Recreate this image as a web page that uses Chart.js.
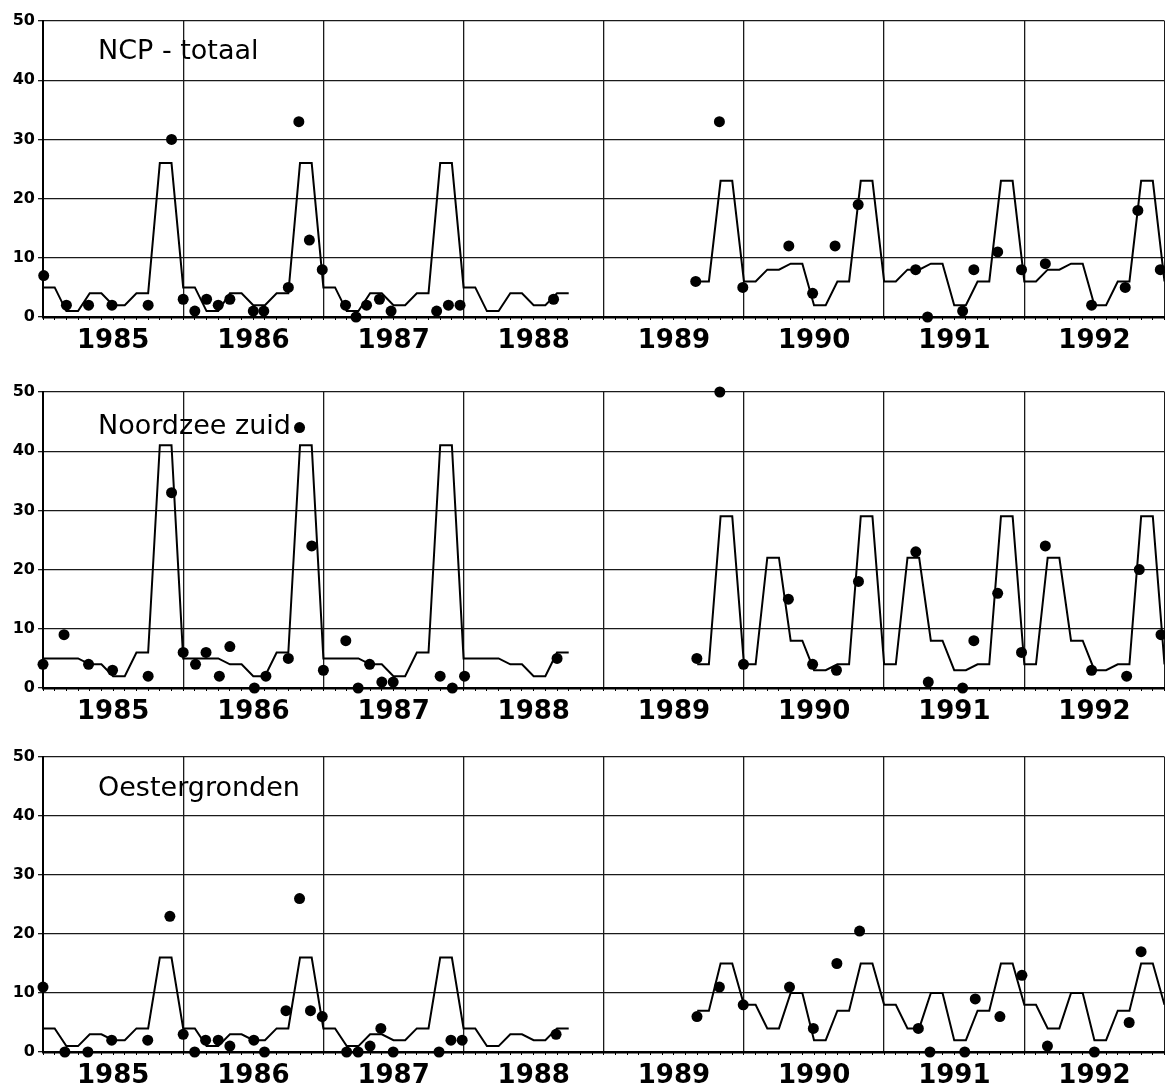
<!DOCTYPE html>
<html>
<head>
<meta charset="utf-8">
<title>NCP - totaal / Noordzee zuid / Oestergronden</title>
<script src="https://cdn.jsdelivr.net/npm/chart.js@4.4.1/dist/chart.umd.min.js"></script>
<style>
  html, body { margin: 0; padding: 0; background: #fff; overflow: hidden; }
  #wrap { position: relative; width: 1165px; height: 1092px; overflow: hidden; }
  canvas { position: absolute; left: 0; }
</style>
</head>
<body>
<div id="wrap">
  <canvas id="ncp" style="top:0px" width="1170" height="365"></canvas>
  <canvas id="zuid" style="top:370px" width="1170" height="366"></canvas>
  <canvas id="oester" style="top:735px" width="1170" height="365"></canvas>
</div>
<script>
// tijdas in decimale jaren; verticale lijnen halverwege het jaar
const yearLabels = [1985, 1986, 1987, 1988, 1989, 1990, 1991, 1992];
const yearGrid = [1985.5, 1986.5, 1987.5, 1988.5, 1989.5, 1990.5, 1991.5, 1992.5];
const valueTicks = [0, 10, 20, 30, 40, 50];

// model: maandwaarden, links jul 1984 t/m apr 1988, rechts mrt 1989 t/m jul 1992
const leftStart = 1984.5;
const rightStart = 1989 + 2 / 12;

const ncpModelLeft = [
  5, 5, 1, 1, 4, 4, 2, 2, 4, 4, 26, 26,
  5, 5, 1, 1, 4, 4, 2, 2, 4, 4, 26, 26,
  5, 5, 1, 1, 4, 4, 2, 2, 4, 4, 26, 26,
  5, 5, 1, 1, 4, 4, 2, 2, 4, 4
];
const ncpModelRight = [
  6, 6, 23, 23,
  6, 6, 8, 8, 9, 9, 2, 2, 6, 6, 23, 23,
  6, 6, 8, 8, 9, 9, 2, 2, 6, 6, 23, 23,
  6, 6, 8, 8, 9, 9, 2, 2, 6, 6, 23, 23,
  6
];
const ncpObsX = [
  1984.505, 1984.667, 1984.825, 1984.992, 1985.25, 1985.417, 1985.5, 1985.583, 1985.667, 1985.75,
  1985.833, 1986.0, 1986.075, 1986.25, 1986.325, 1986.4, 1986.492, 1986.658, 1986.733, 1986.808,
  1986.9, 1986.983, 1987.308, 1987.392, 1987.475, 1988.142,
  1989.156, 1989.325, 1989.492, 1989.82, 1989.99, 1990.15, 1990.315, 1990.725, 1990.81, 1991.06,
  1991.14, 1991.31, 1991.48, 1991.65, 1991.98, 1992.22, 1992.31, 1992.47
];
const ncpObsY = [
  7, 2, 2, 2, 2, 30, 3, 1, 3, 2,
  3, 1, 1, 5, 33, 13, 8, 2, 0, 2,
  3, 1, 1, 2, 2, 3,
  6, 33, 5, 12, 4, 12, 19, 8, 0, 1,
  8, 11, 8, 9, 2, 5, 18, 8
];

const zuidModelLeft = [
  5, 5, 5, 5, 4, 4, 2, 2, 6, 6, 41, 41,
  5, 5, 5, 5, 4, 4, 2, 2, 6, 6, 41, 41,
  5, 5, 5, 5, 4, 4, 2, 2, 6, 6, 41, 41,
  5, 5, 5, 5, 4, 4, 2, 2, 6, 6
];
const zuidModelRight = [
  4, 4, 29, 29,
  4, 4, 22, 22, 8, 8, 3, 3, 4, 4, 29, 29,
  4, 4, 22, 22, 8, 8, 3, 3, 4, 4, 29, 29,
  4, 4, 22, 22, 8, 8, 3, 3, 4, 4, 29, 29,
  4
];
const zuidObsX = [
  1984.5, 1984.65, 1984.825, 1984.996, 1985.25, 1985.417, 1985.5, 1985.588, 1985.663, 1985.758,
  1985.833, 1986.008, 1986.09, 1986.25, 1986.33, 1986.417, 1986.5, 1986.66, 1986.748, 1986.83,
  1986.917, 1986.998, 1987.333, 1987.42, 1987.507, 1988.167,
  1989.164, 1989.328, 1989.497, 1989.817, 1989.99, 1990.16, 1990.317, 1990.726, 1990.815, 1991.06,
  1991.14, 1991.31, 1991.48, 1991.65, 1991.98, 1992.23, 1992.32, 1992.475
];
const zuidObsY = [
  4, 9, 4, 3, 2, 33, 6, 4, 6, 2,
  7, 0, 2, 5, 44, 24, 3, 8, 0, 4,
  1, 1, 2, 0, 2, 5,
  5, 50, 4, 15, 4, 3, 18, 23, 1, 0,
  8, 16, 6, 24, 3, 2, 20, 9
];

const oesterModelLeft = [
  4, 4, 1, 1, 3, 3, 2, 2, 4, 4, 16, 16,
  4, 4, 1, 1, 3, 3, 2, 2, 4, 4, 16, 16,
  4, 4, 1, 1, 3, 3, 2, 2, 4, 4, 16, 16,
  4, 4, 1, 1, 3, 3, 2, 2, 4, 4
];
const oesterModelRight = [
  7, 7, 15, 15,
  8, 8, 4, 4, 10, 10, 2, 2, 7, 7, 15, 15,
  8, 8, 4, 4, 10, 10, 2, 2, 7, 7, 15, 15,
  8, 8, 4, 4, 10, 10, 2, 2, 7, 7, 15, 15,
  8
];
const oesterObsX = [
  1984.5, 1984.656, 1984.82, 1984.99, 1985.247, 1985.405, 1985.5, 1985.582, 1985.66, 1985.75,
  1985.833, 1986.004, 1986.08, 1986.233, 1986.33, 1986.408, 1986.492, 1986.666, 1986.748, 1986.833,
  1986.91, 1986.998, 1987.325, 1987.41, 1987.49, 1988.16,
  1989.165, 1989.325, 1989.495, 1989.825, 1989.995, 1990.163, 1990.325, 1990.744, 1990.827, 1991.075,
  1991.15, 1991.326, 1991.483, 1991.665, 1992.0, 1992.248, 1992.333
];
const oesterObsY = [
  11, 0, 0, 2, 2, 23, 3, 0, 2, 2,
  1, 2, 0, 7, 26, 7, 6, 0, 0, 1,
  4, 0, 0, 2, 2, 3,
  6, 11, 8, 11, 4, 15, 20.5, 4, 0, 0,
  9, 6, 13, 1, 0, 5, 17
];

// maandstreepjes langs de nullijn
const monthTicks = [];
for (let i = 0; i <= 96; i++) monthTicks.push(1984.5 + i / 12);

// paneltitel binnen het plotvlak
const panelTitle = {
  id: 'panelTitle',
  afterDatasetsDraw(chart, args, opts) {
    const { ctx, chartArea } = chart;
    ctx.save();
    ctx.font = '27px "DejaVu Sans"';
    ctx.fillStyle = '#000';
    ctx.textBaseline = 'middle';
    ctx.fillText(opts.text, chartArea.left + opts.dx, chartArea.top + opts.dy);
    ctx.restore();
  }
};

function monthly(start, values) {
  return values.map((v, i) => ({ x: start + i / 12, y: v }));
}

function makePanel(id, title, padTop, titleDy, modelLeft, modelRight, obsX, obsY) {
  const ctx = document.getElementById(id).getContext('2d');
  const lineStyle = {
    showLine: true,
    borderColor: '#000',
    borderWidth: 2,
    pointRadius: 0,
    tension: 0
  };

  return new Chart(ctx, {
    type: 'scatter',
    data: {
      datasets: [
        {
          label: 'waarneming',
          data: obsX.map((x, i) => ({ x: x, y: obsY[i] })),
          pointRadius: 5.5,
          backgroundColor: '#000',
          borderColor: '#000',
          borderWidth: 0,
          clip: false
        },
        { label: 'model', data: monthly(leftStart, modelLeft), ...lineStyle },
        { label: 'model', data: monthly(rightStart, modelRight), ...lineStyle }
      ]
    },
    plugins: [panelTitle],
    options: {
      responsive: false,
      animation: false,
      events: [],
      layout: { padding: { top: padTop, left: 0, right: 0, bottom: 0 } },
      plugins: {
        legend: { display: false },
        tooltip: { enabled: false },
        panelTitle: { text: title, dx: 55, dy: titleDy }
      },
      scales: {
        x: {
          type: 'linear',
          min: 1984.5,
          max: 1992.5,
          weight: 1,
          afterBuildTicks: axis => { axis.ticks = yearGrid.map(v => ({ value: v })); },
          afterFit: axis => { axis.height = 48; axis.paddingLeft = 0; axis.paddingRight = 0; },
          grid: { color: '#1a1a1a', lineWidth: 1.3, drawTicks: false },
          border: { display: true, color: '#000', width: 2.5 },
          ticks: {
            callback: (value, index) => yearLabels[index],
            labelOffset: -70,
            padding: 9,
            maxRotation: 0,
            autoSkip: false,
            color: '#000',
            font: { family: 'DejaVu Sans', size: 26, weight: 'bold' }
          }
        },
        months: {
          type: 'linear',
          position: 'bottom',
          min: 1984.5,
          max: 1992.5,
          weight: 0,
          afterBuildTicks: axis => { axis.ticks = monthTicks.map(v => ({ value: v })); },
          afterFit: axis => { axis.height = 0; axis.paddingLeft = 0; axis.paddingRight = 0; },
          grid: { drawOnChartArea: false, color: '#000', lineWidth: 1, tickLength: 3 },
          border: { display: false },
          ticks: { display: false }
        },
        y: {
          min: 0,
          max: 50,
          afterBuildTicks: axis => { axis.ticks = valueTicks.map(v => ({ value: v })); },
          afterFit: axis => { axis.width = 43; axis.paddingTop = 0; axis.paddingBottom = 0; },
          grid: { color: '#1a1a1a', lineWidth: 1.3, tickLength: 5 },
          border: { color: '#000', width: 2 },
          ticks: {
            padding: 3,
            color: '#000',
            font: { family: 'DejaVu Sans', size: 16, weight: 'bold' }
          }
        }
      }
    }
  });
}

makePanel('ncp', 'NCP - totaal', 21, 31, ncpModelLeft, ncpModelRight, ncpObsX, ncpObsY);
makePanel('zuid', 'Noordzee zuid', 22, 35, zuidModelLeft, zuidModelRight, zuidObsX, zuidObsY);
makePanel('oester', 'Oestergronden', 22, 32, oesterModelLeft, oesterModelRight, oesterObsX, oesterObsY);
</script>
</body>
</html>
